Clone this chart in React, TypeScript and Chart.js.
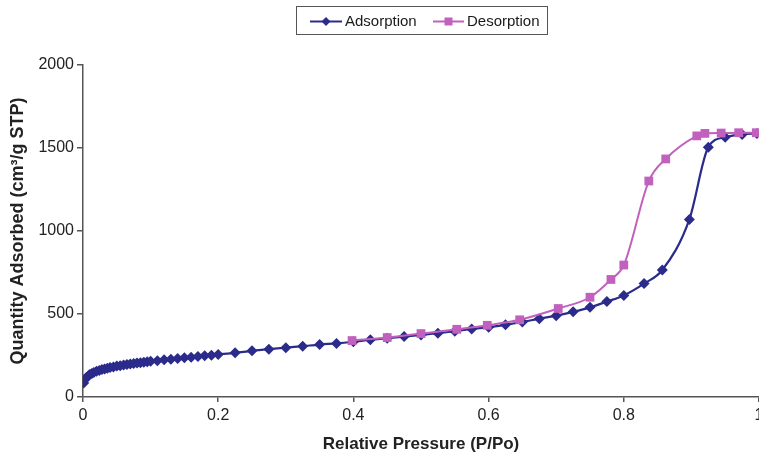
import React, { useEffect, useRef } from "react";
import { Chart, registerables } from "chart.js";

Chart.register(...registerables);

const seriesNames = ["Adsorption", "Desorption"];
const seriesColors = ["#2B2B8C", "#C260BD"];

const adsX = [
  0.001, 0.003, 0.005, 0.008, 0.01, 0.013, 0.016, 0.02, 0.024, 0.028, 0.032, 0.036,
  0.04, 0.045, 0.05, 0.055, 0.06, 0.065, 0.07, 0.075, 0.08, 0.085, 0.09, 0.095, 0.1,
  0.11, 0.12, 0.13, 0.14, 0.15, 0.16, 0.17, 0.18, 0.19, 0.2,
  0.225, 0.25, 0.275, 0.3, 0.325, 0.35, 0.375, 0.4, 0.425, 0.45, 0.475, 0.5, 0.525,
  0.55, 0.575, 0.6, 0.625, 0.65, 0.675, 0.7, 0.725, 0.75, 0.775, 0.8, 0.83, 0.857,
  0.897, 0.925, 0.95, 0.975, 0.997,
];
const adsY = [
  85, 105, 118, 128, 135, 142, 148, 155, 160, 165, 169, 173,
  177, 181, 186, 189, 193, 196, 199, 202, 205, 207, 210, 212, 215,
  219, 224, 228, 232, 236, 240, 244, 248, 252, 256,
  266, 278, 288, 297, 306, 316, 323, 333, 345, 354, 364, 374, 384,
  396, 410, 420, 435, 452, 472, 490, 513, 540, 575, 612, 683, 765,
  1070, 1505, 1565, 1582, 1588,
];

const desX = [
  0.398, 0.45, 0.5, 0.553, 0.598, 0.646, 0.703, 0.75, 0.781, 0.8, 0.837, 0.862,
  0.908, 0.92, 0.944, 0.97, 0.996,
];
const desY = [
  340, 358, 382, 408, 432, 465, 533, 601, 708, 795, 1301, 1434,
  1573, 1588, 1590, 1592, 1592,
];

const xTicks = [0, 0.2, 0.4, 0.6, 0.8, 1];
const xTickLabels = ["0", "0.2", "0.4", "0.6", "0.8", "1"];
const yTicks = [0, 500, 1000, 1500, 2000];
const yTickLabels = ["0", "500", "1000", "1500", "2000"];

const xTitle = "Relative Pressure (P/Po)";
const yTitle = "Quantity Adsorbed (cm³/g STP)";

const FONT = "'Liberation Sans', Arial, sans-serif";

const legendBoxPlugin = {
  id: "legendBox",
  afterDraw(chart: any) {
    const ctx = chart.ctx;
    ctx.save();
    ctx.strokeStyle = "#555";
    ctx.lineWidth = 1;
    ctx.strokeRect(296.5, 6.5, 251, 28);
    const y = 21.5;
    const items = [
      { x0: 310, x1: 342, name: seriesNames[0], color: seriesColors[0], shape: "diamond", tx: 345 },
      { x0: 433, x1: 464, name: seriesNames[1], color: seriesColors[1], shape: "square", tx: 467 },
    ];
    for (const it of items) {
      ctx.strokeStyle = it.color;
      ctx.lineWidth = 2;
      ctx.beginPath();
      ctx.moveTo(it.x0, y);
      ctx.lineTo(it.x1, y);
      ctx.stroke();
      const cx = (it.x0 + it.x1) / 2;
      ctx.fillStyle = it.color;
      ctx.beginPath();
      if (it.shape === "diamond") {
        ctx.moveTo(cx, y - 4.5);
        ctx.lineTo(cx + 4.5, y);
        ctx.lineTo(cx, y + 4.5);
        ctx.lineTo(cx - 4.5, y);
      } else {
        ctx.rect(cx - 4, y - 4, 8, 8);
      }
      ctx.closePath();
      ctx.fill();
      ctx.fillStyle = "#1a1a1a";
      ctx.font = `15px ${FONT}`;
      ctx.textBaseline = "middle";
      ctx.textAlign = "left";
      ctx.fillText(it.name, it.tx, y);
    }
    ctx.restore();
  },
};

export default function App() {
  const ref = useRef<HTMLCanvasElement | null>(null);

  useEffect(() => {
    if (!ref.current) return;
    const chart = new Chart(ref.current, {
      type: "line",
      data: {
        datasets: [
          {
            label: seriesNames[0],
            data: adsX.map((x, i) => ({ x, y: adsY[i] })),
            borderColor: seriesColors[0],
            backgroundColor: seriesColors[0],
            borderWidth: 2.2,
            pointStyle: "rectRot",
            pointRadius: 5.5,
            pointBorderWidth: 0,
            cubicInterpolationMode: "monotone",
            fill: false,
            order: 1,
          },
          {
            label: seriesNames[1],
            data: desX.map((x, i) => ({ x, y: desY[i] })),
            borderColor: seriesColors[1],
            backgroundColor: seriesColors[1],
            borderWidth: 2,
            pointStyle: "rect",
            pointRadius: 6.2,
            pointBorderWidth: 0,
            cubicInterpolationMode: "monotone",
            fill: false,
            order: 0,
          },
        ],
      },
      options: {
        responsive: false,
        maintainAspectRatio: false,
        devicePixelRatio: 1,
        animation: false,
        layout: { padding: { left: 0, top: 65, right: 31, bottom: 0 } },
        plugins: {
          legend: { display: false },
          tooltip: { enabled: false },
        },
        scales: {
          x: {
            type: "linear",
            min: 0,
            max: 1,
            afterBuildTicks: (s: any) => {
              s.ticks = xTicks.map((v) => ({ value: v }));
            },
            afterFit: (s: any) => {
              s.height = 58;
            },
            ticks: {
              callback: (_v: any, i: number) => xTickLabels[i],
              font: { size: 16, family: FONT },
              color: "#222",
              padding: 4,
              maxRotation: 0,
              autoSkip: false,
            },
            grid: {
              drawOnChartArea: false,
              drawTicks: true,
              tickLength: 5,
              color: "#555",
              lineWidth: 1.5,
            },
            border: { display: true, color: "#555", width: 1.5 },
            title: {
              display: true,
              text: xTitle,
              font: { size: 17, weight: "bold", family: FONT },
              color: "#222",
              padding: { top: 0, bottom: 0 },
            },
          },
          y: {
            type: "linear",
            min: 0,
            max: 2000,
            afterBuildTicks: (s: any) => {
              s.ticks = yTicks.map((v) => ({ value: v }));
            },
            afterFit: (s: any) => {
              s.width = 83;
            },
            ticks: {
              callback: (_v: any, i: number) => yTickLabels[i],
              font: { size: 16, family: FONT },
              color: "#222",
              padding: 3,
            },
            grid: {
              drawOnChartArea: false,
              drawTicks: true,
              tickLength: 6,
              color: "#555",
              lineWidth: 1.5,
            },
            border: { display: true, color: "#555", width: 1.5 },
            title: {
              display: true,
              text: yTitle,
              font: { size: 18, weight: "bold", family: FONT },
              color: "#222",
              padding: { top: 7, bottom: 0 },
            },
          },
        },
      },
      plugins: [legendBoxPlugin],
    } as any);
    return () => chart.destroy();
  }, []);

  return (
    <div
      style={{
        position: "fixed",
        left: 0,
        top: 0,
        width: 759,
        height: 455,
        overflow: "hidden",
        background: "#fff",
      }}
    >
      <canvas ref={ref} width={790} height={455} style={{ display: "block" }} />
    </div>
  );
}
